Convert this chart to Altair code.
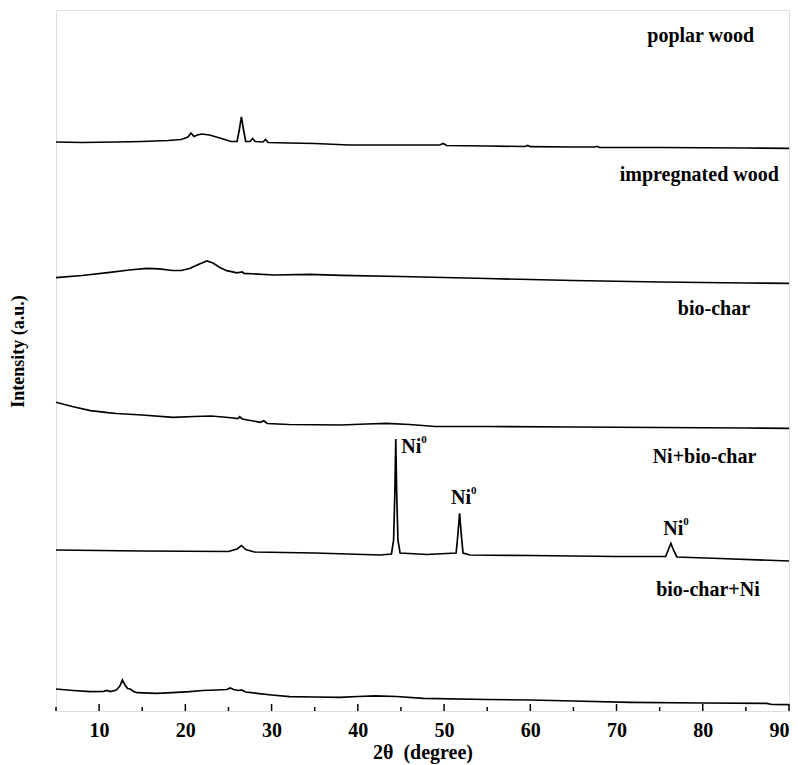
import altair as alt
import pandas as pd

# ---- data (2theta in degree, intensity in a.u., curves already offset) ----
poplar_x = [5, 8, 12, 15, 18, 19.5, 20.3, 20.65, 21.0, 21.4, 21.9, 22.8, 24.0, 25.3, 26.0, 26.25, 26.5, 26.75,
            27.0, 27.5, 27.8, 28.1, 29.0, 29.3, 29.6, 32, 35, 39, 45, 49.5, 49.9, 50.3, 55, 59.4, 59.7, 60,
            65, 67.5, 67.7, 68, 75, 85, 90]
poplar_y = [569, 568.5, 569, 569.5, 570.5, 571.5, 574, 578, 574.5, 576, 577, 576, 573, 569.5, 569.5, 581, 594, 581,
            569.5, 569.5, 572.5, 569.5, 569, 571.5, 568.5, 568, 567.5, 566, 566, 566, 567.5, 565.5, 565, 564.5, 565.5, 564.3,
            564, 564, 564.7, 563.7, 563.5, 563, 562.7]

impreg_x = [5, 8, 11, 13.5, 15.5, 17, 18.5, 19.5, 20.5, 21.5, 22.5, 23.2, 24.0, 24.8, 26.0, 26.6, 26.8,
            30.2, 34.5, 38, 45, 55, 65, 75, 85, 90]
impreg_y = [433.3, 435.5, 438.3, 441, 442.7, 442.2, 440.5, 440.5, 442.5, 446.5, 450, 448, 443.5, 440.3, 438.2, 439, 437.7,
            436, 436.7, 435.7, 434.5, 432.5, 430.5, 429, 428, 427.7]

biochar_x = [5, 7, 9, 11, 12, 15, 18.6, 21, 23, 25, 26.1, 26.3, 26.6, 28.7, 29.1, 29.5, 32, 38, 41, 43.3, 46, 49,
             55, 65, 75, 85, 90]
biochar_y = [308.7, 304.3, 300.3, 298.3, 297.5, 296, 293.7, 294.5, 295, 293.5, 292.3, 294.2, 292, 288.7, 290.2, 287.5,
             286.5, 286, 287, 287.7, 286.5, 284.5, 284.5, 284, 283.5, 283, 282.7]

ni_bc_x = [5, 15, 25, 26.0, 26.5, 27.0, 28, 35, 42.6, 43.9, 44.15, 44.3, 44.4, 44.5, 44.65, 44.9, 48,
           51.4, 51.6, 51.8, 52.0, 52.2, 53, 60, 70, 75.7, 76.0, 76.3, 76.6, 77.0, 82, 90]
ni_bc_y = [161, 160, 159.5, 162, 165.5, 161.5, 159, 158, 156, 157, 171, 221, 272, 221, 171, 158, 156.5,
           158, 176, 197.7, 176, 158, 156, 155.5, 154.5, 154.5, 161, 167.7, 161, 154, 152.5, 150]

bc_ni_x = [5, 7, 9, 10.5, 10.9, 11.3, 12.0, 12.4, 12.7, 13.0, 13.3, 13.6, 14.0, 14.4, 16.7, 18.5, 20.5, 22,
           23.6, 24.8, 25.2, 25.6, 26.2, 26.5, 27, 28.3, 30, 32.1, 35, 37.9, 40, 42, 44.5, 47.6, 55, 60, 65,
           71.6, 80, 87.4, 88, 90]
bc_ni_y = [22, 20.5, 19.3, 19.5, 20.5, 19.5, 21, 25, 31, 26, 22.5, 22, 19.5, 18.3, 17.7, 18.3, 19.3, 20.5,
           21, 21.5, 23, 21.5, 20.5, 21, 19, 17.7, 16, 14.3, 14, 13.7, 14.5, 15.2, 14.5, 12.7, 11.5, 11, 10,
           8.7, 8, 7.7, 6.5, 6.3]

series_names = ["poplar wood", "impregnated wood", "bio-char", "Ni+bio-char", "bio-char+Ni"]
series_x = [poplar_x, impreg_x, biochar_x, ni_bc_x, bc_ni_x]
series_y = [poplar_y, impreg_y, biochar_y, ni_bc_y, bc_ni_y]

# curve labels
label_text = ["poplar wood", "impregnated wood", "bio-char", "Ni+bio-char", "bio-char+Ni"]
label_x = [79.76, 79.6, 81.3, 80.2, 80.6]
label_y = [669.3, 530, 396, 247.7, 115]

# Ni0 peak annotations
ni_x = [45.05, 50.8, 75.42]
ni_y = [258, 207, 176]

major_ticks = [10, 20, 30, 40, 50, 60, 70, 80, 90]
minor_ticks = [5, 15, 25, 35, 45, 55, 65, 75, 85]

# ---- build tables ----
rows = []
for name, xs, ys in zip(series_names, series_x, series_y):
    for xv, yv in zip(xs, ys):
        rows.append({"series": name, "two_theta": xv, "intensity": yv})
df = pd.DataFrame(rows)
df_lab = pd.DataFrame({"text": label_text, "two_theta": label_x, "intensity": label_y})
df_ni = pd.DataFrame({"two_theta": ni_x, "intensity": ni_y})
df_major = pd.DataFrame({"two_theta": major_ticks})
df_minor = pd.DataFrame({"two_theta": minor_ticks})

FONT = "Liberation Serif"

xscale = alt.Scale(domain=[5, 90], nice=False, zero=False)
yscale = alt.Scale(domain=[0, 701], nice=False, zero=False)

x_enc = alt.X("two_theta:Q", scale=xscale,
              axis=alt.Axis(title="2θ\u00a0\u00a0(degree)", values=major_ticks, format="d", ticks=False, domain=False,
                            grid=False, labelFont=FONT, labelFontSize=20, labelFontWeight="bold",
                            labelColor="black", labelPadding=9, titleFont=FONT, titleFontSize=20,
                            titleFontWeight="bold", titleColor="black", titlePadding=2))
y_enc = alt.Y("intensity:Q", scale=yscale,
              axis=alt.Axis(title="Intensity (a.u.)", labels=False, ticks=False, domain=False, grid=False,
                            titleFont=FONT, titleFontSize=18, titleFontWeight="bold", titleColor="black",
                            titleX=-38, titleY=341, titleBaseline="middle", titleAlign="center"))

lines = alt.Chart(df).mark_line(color="black", strokeWidth=1.7, interpolate="linear").encode(
    x=x_enc, y=y_enc, detail="series:N", order=alt.Order("two_theta:Q"))

major = alt.Chart(df_major).mark_rule(color="black", strokeWidth=1.5).encode(
    x=alt.X("two_theta:Q", scale=xscale), y=alt.value(701), y2=alt.value(694))
minor = alt.Chart(df_minor).mark_rule(color="black", strokeWidth=1.5).encode(
    x=alt.X("two_theta:Q", scale=xscale), y=alt.value(701), y2=alt.value(697))

labels = alt.Chart(df_lab).mark_text(font=FONT, fontSize=20, fontWeight="bold", color="black",
                                     align="center", baseline="alphabetic").encode(
    x=alt.X("two_theta:Q", scale=xscale), y=alt.Y("intensity:Q", scale=yscale), text="text:N")

ni_text = alt.Chart(df_ni).mark_text(font=FONT, fontSize=20, fontWeight="bold", color="black",
                                     align="left", baseline="alphabetic", text="Ni").encode(
    x=alt.X("two_theta:Q", scale=xscale), y=alt.Y("intensity:Q", scale=yscale))
ni_sup = alt.Chart(df_ni).mark_text(font=FONT, fontSize=11, fontWeight="bold", color="black",
                                    align="left", baseline="alphabetic", text="0", dx=20, dy=-10).encode(
    x=alt.X("two_theta:Q", scale=xscale), y=alt.Y("intensity:Q", scale=yscale))

chart = alt.layer(lines, major, minor, labels, ni_text, ni_sup).properties(
    width=733, height=701,
    autosize=alt.AutoSizeParams(type="none"),
    padding={"left": 56, "top": 10, "right": 9, "bottom": 54},
).configure_view(stroke="black", strokeWidth=1.6).configure(background="white")

chart.save("out.html", embed_options={"renderer": "svg", "actions": False})
